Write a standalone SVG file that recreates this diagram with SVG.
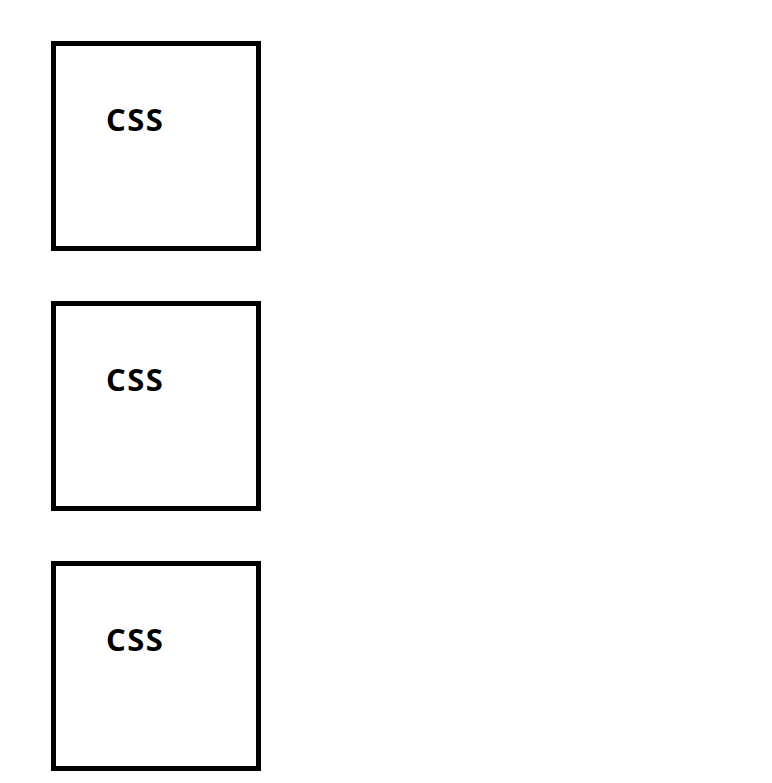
<svg xmlns="http://www.w3.org/2000/svg" width="772" height="783" viewBox="0 0 772 783">
<style>
.box{fill:#fff;stroke:#000;stroke-width:5}
.lbl{font-family:"Open Sans","Noto Sans",sans-serif;font-weight:bold;font-size:31px;letter-spacing:1.4px;fill:#000}
</style>
<rect width="772" height="783" fill="#fff"/>
<g id="box1"><rect class="box" x="53.5" y="43.5" width="205" height="205"/><text class="lbl" x="106" y="131">CSS</text></g>
<g id="box2"><rect class="box" x="53.5" y="303.5" width="205" height="205"/><text class="lbl" x="106" y="391">CSS</text></g>
<g id="box3"><rect class="box" x="53.5" y="563.5" width="205" height="205"/><text class="lbl" x="106" y="651">CSS</text></g>
<g id="connectors"></g>
</svg>
